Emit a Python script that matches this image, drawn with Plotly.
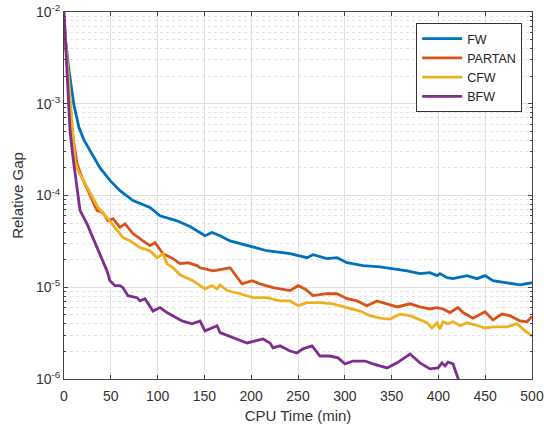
import plotly.graph_objects as go

# ---------------- data ----------------
fw_x = [0, 5.3, 10.7, 16, 21.4, 27.8, 38.5, 49.1, 59.8, 73.7, 91.9, 102.6, 120.7, 134.6, 150.6,
        158.1, 166.7, 177.4, 195.5, 216.9, 241.5, 259.6, 266, 281, 291.7, 302.4, 319.4, 337.6,
        366.5, 380.3, 391, 398.5, 401.7, 409.2, 415.6, 430.6, 441.2, 449.8, 458.3, 473.3, 487.2, 500]
fw_y = [7.0e-3, 2.3e-3, 9.6e-4, 5.5e-4, 4.0e-4, 3.1e-4, 2.0e-4, 1.46e-4, 1.13e-4, 8.8e-5, 7.4e-5,
        6.0e-5, 5.3e-5, 4.6e-5, 3.65e-5, 3.95e-5, 3.65e-5, 3.2e-5, 2.84e-5, 2.5e-5, 2.32e-5, 2.1e-5,
        2.26e-5, 2.05e-5, 2.1e-5, 1.85e-5, 1.72e-5, 1.67e-5, 1.51e-5, 1.41e-5, 1.44e-5, 1.34e-5,
        1.41e-5, 1.27e-5, 1.24e-5, 1.34e-5, 1.24e-5, 1.34e-5, 1.18e-5, 1.12e-5, 1.06e-5, 1.12e-5]

partan_x = [0, 4.3, 8.5, 11.8, 13.9, 19.2, 25.6, 35.3, 41.7, 47, 52.4, 59.8, 65.2, 73.7, 84.4, 91.9,
            97.2, 105.8, 116.5, 123.9, 132.5, 142.1, 145.3, 159.2, 177.4, 184.8, 190.2, 200.9, 209.4,
            223.3, 241.5, 250, 257.5, 266, 281, 291.7, 302.4, 313, 323.7, 334.4, 345.1, 355.8, 369.7,
            380.3, 391, 398.5, 404.9, 412.4, 420.9, 426.3, 437, 449.8, 458.3, 467.9, 476.5, 487.2,
            494.7, 500]
partan_y = [8.2e-3, 1.8e-3, 5.1e-4, 3.1e-4, 2.24e-4, 1.57e-4, 1.13e-4, 6.9e-5, 6.5e-5, 5.3e-5, 5.6e-5,
            4.5e-5, 4.9e-5, 3.85e-5, 3.2e-5, 2.84e-5, 3.06e-5, 2.32e-5, 2.05e-5, 1.81e-5, 1.85e-5,
            1.72e-5, 1.63e-5, 1.51e-5, 1.63e-5, 1.27e-5, 1.09e-5, 1.18e-5, 1.09e-5, 9.9e-6, 9.2e-6,
            1.04e-5, 9.6e-6, 8.1e-6, 8.5e-6, 8.5e-6, 7.5e-6, 7.1e-6, 6.3e-6, 7.1e-6, 6.6e-6, 6.1e-6,
            6.6e-6, 6.1e-6, 5.8e-6, 6.0e-6, 5.8e-6, 5.3e-6, 6.0e-6, 5.3e-6, 4.6e-6, 5.4e-6, 4.4e-6,
            5.1e-6, 4.9e-6, 4.3e-6, 4.2e-6, 4.8e-6]

cfw_x = [0, 6.4, 9.6, 11.8, 15, 22.4, 29.9, 36.3, 45.9, 56.6, 63, 70.5, 81.2, 91.9, 99.4, 105.8, 110,
         116.5, 123.9, 137.8, 150.6, 158.1, 163.5, 166.7, 174.1, 188, 201.9, 216.9, 230.8, 241.5,
         250, 259.6, 273.5, 287.4, 294.9, 307.7, 316.2, 326.9, 337.6, 348.3, 359, 369.7, 382.5,
         387.8, 393.2, 398.5, 401.7, 404.9, 410.3, 415.6, 423.1, 430.6, 439.1, 449.8, 458.3, 473.3,
         484, 490.4, 500]
cfw_y = [8.2e-3, 1.1e-3, 4.0e-4, 2.4e-4, 1.88e-4, 1.35e-4, 9.5e-5, 7.4e-5, 5.75e-5, 4.14e-5, 3.47e-5,
         3.22e-5, 2.7e-5, 2.5e-5, 2.1e-5, 2.32e-5, 1.81e-5, 1.63e-5, 1.37e-5, 1.18e-5, 9.6e-6,
         1.04e-5, 9.6e-6, 1.06e-5, 9.2e-6, 8.5e-6, 7.7e-6, 7.7e-6, 7.1e-6, 7.1e-6, 6.3e-6, 6.8e-6,
         6.8e-6, 6.6e-6, 6.3e-6, 5.8e-6, 5.5e-6, 4.9e-6, 4.6e-6, 4.5e-6, 5.1e-6, 4.9e-6, 4.3e-6,
         4.1e-6, 3.6e-6, 4.1e-6, 3.5e-6, 4.2e-6, 4.0e-6, 4.2e-6, 3.8e-6, 4.1e-6, 3.9e-6, 3.6e-6,
         3.7e-6, 3.7e-6, 4.0e-6, 3.5e-6, 2.95e-6]

bfw_x = [0, 3.2, 6.4, 9.6, 13.9, 17.1, 24.6, 31, 38.5, 45.9, 49.1, 54.5, 59.8, 63, 68.4, 78, 81.2,
         86.5, 95.1, 102.6, 110, 116.5, 126.1, 136.8, 145.3, 150.6, 159.2, 163.5, 166.7, 180.6,
         195.5, 212.6, 220.1, 223.3, 230.8, 241.5, 248.9, 255.3, 265, 273.5, 284.2, 292.7, 300.2,
         308.8, 321.6, 330.1, 345.1, 355.8, 369.7, 380.3, 391, 399.6, 403.8, 407.1, 410.3, 415.6,
         422, 425]
bfw_y = [1.0e-2, 2.3e-3, 5.1e-4, 2.6e-4, 1.13e-4, 6.9e-5, 4.9e-5, 3.47e-5, 2.32e-5, 1.51e-5, 1.18e-5,
         1.04e-5, 1.04e-5, 9.9e-6, 8.1e-6, 7.7e-6, 7.1e-6, 7.5e-6, 5.5e-6, 6.0e-6, 5.3e-6, 4.9e-6,
         4.3e-6, 4.0e-6, 4.3e-6, 3.35e-6, 3.6e-6, 3.8e-6, 3.2e-6, 2.8e-6, 2.47e-6, 2.73e-6, 2.47e-6,
         2.18e-6, 2.3e-6, 2.02e-6, 1.92e-6, 2.13e-6, 2.3e-6, 1.78e-6, 1.78e-6, 1.7e-6, 1.46e-6,
         1.57e-6, 1.57e-6, 1.46e-6, 1.32e-6, 1.5e-6, 1.87e-6, 1.5e-6, 1.29e-6, 1.32e-6, 1.5e-6,
         1.39e-6, 1.53e-6, 1.46e-6, 9.5e-7, 6.0e-7]

series_names = ["FW", "PARTAN", "CFW", "BFW"]
x_ticks = [0, 50, 100, 150, 200, 250, 300, 350, 400, 450, 500]
y_ticks = [1e-6, 1e-5, 1e-4, 1e-3, 1e-2]
y_tick_labels = ["10<sup>-6</sup>", "10<sup>-5</sup>", "10<sup>-4</sup>", "10<sup>-3</sup>", "10<sup>-2</sup>"]
y_minor = [k * 10.0 ** e for e in range(-6, -2) for k in range(2, 10)]

colors = ["#0072BD", "#D95319", "#EDB120", "#7E2F8E"]
xs = [fw_x, partan_x, cfw_x, bfw_x]
ys = [fw_y, partan_y, cfw_y, bfw_y]

fig = go.Figure()
for name, x, y, c in zip(series_names, xs, ys, colors):
    fig.add_trace(go.Scatter(x=x, y=y, mode="lines", name=name,
                             line=dict(color=c, width=2.8)))

font_family = "Liberation Sans, Arial, sans-serif"
axis_col = "#444444"
text_col = "#333333"

fig.update_layout(
    width=544, height=428,
    margin=dict(l=64, r=12, t=12, b=49),
    paper_bgcolor="white", plot_bgcolor="white",
    font=dict(family=font_family, size=14, color=text_col),
    showlegend=True,
    legend=dict(x=0.979, y=0.970, xanchor="right", yanchor="top",
                bgcolor="white", bordercolor="#333333", borderwidth=1,
                font=dict(size=12.5, color="#222222"),
                tracegroupgap=0, itemwidth=40),
)

fig.update_xaxes(
    range=[0, 500], tickvals=x_ticks, ticktext=[str(v) for v in x_ticks],
    showline=True, linecolor=axis_col, linewidth=1, mirror="ticks",
    ticks="inside", ticklen=4, tickcolor=axis_col, automargin=False,
    ticklabelstandoff=4,
    showgrid=True, gridcolor="#e0e0e0", gridwidth=1, zeroline=False,
    title=dict(text="CPU Time (min)", font=dict(size=15, color=text_col), standoff=7),
    tickfont=dict(size=14, color=text_col),
)
fig.update_yaxes(
    type="log", range=[-6, -2], tickvals=y_ticks, ticktext=y_tick_labels,
    showline=True, linecolor=axis_col, linewidth=1, mirror="ticks",
    ticks="inside", ticklen=4, tickcolor=axis_col, automargin=False,
    showgrid=True, gridcolor="#e0e0e0", gridwidth=1, zeroline=False,
    minor=dict(tickmode="array", tickvals=y_minor, ticks="inside", ticklen=2,
               tickcolor=axis_col, showgrid=True, gridcolor="#e4e4e4",
               griddash="dot", gridwidth=1),
    title=dict(text="Relative Gap", font=dict(size=15, color=text_col), standoff=8),
    tickfont=dict(size=14, color=text_col),
)

fig.write_html("out.html", post_script="document.body.style.margin='0';",
               config={"displayModeBar": False})
